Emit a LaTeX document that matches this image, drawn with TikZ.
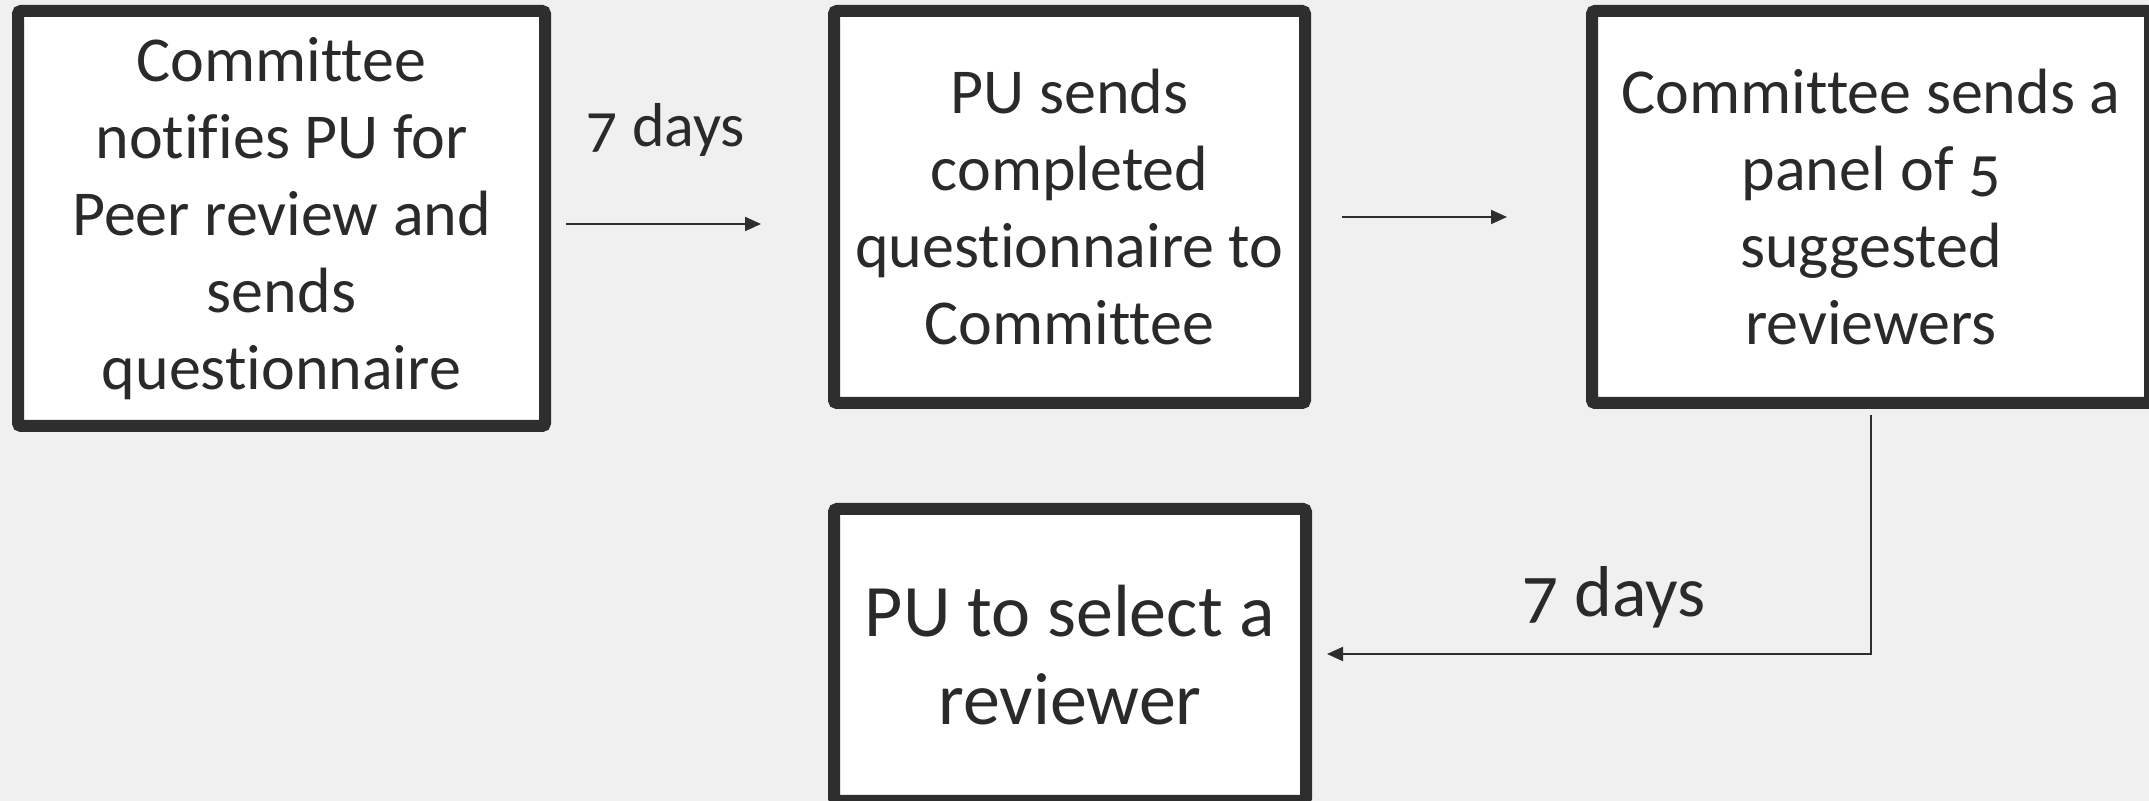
\documentclass[tikz,border=0pt]{standalone}
\usepackage{fontspec}
\setmainfont{Carlito}[Ligatures=NoCommon,Numbers=OldStyle]
\usetikzlibrary{arrows.meta,calc}
\definecolor{bgc}{HTML}{F0F0F0}
\definecolor{inkc}{HTML}{2E2E2E}
\definecolor{txtc}{HTML}{2A2A2A}
\begin{document}
\begin{tikzpicture}[x=0.5pt,y=-0.5pt,
  stepbox/.style={draw=inkc,line width=6pt,fill=white,rounded corners=1.5pt,
    align=center,text=txtc,inner sep=0pt,
    font=\fontsize{32}{38.5}\selectfont},
  bigbox/.style={stepbox,font=\fontsize{37}{44}\selectfont},
  arr/.style={draw=inkc,line width=1pt,-{Triangle[length=8pt,width=7pt]}},
  lbl/.style={text=txtc,inner sep=0pt,anchor=base}]
\useasboundingbox (0,0) rectangle (2149,801);
\fill[bgc] (0,0) rectangle (2149,801);
\clip (0,0) rectangle (2149,801);

\node[stepbox,minimum width=263.5pt,minimum height=207.5pt] (b1) at (281.5,218.5)
  {Committee\\notifies PU for\\Peer review and\\sends\\questionnaire};
\node[stepbox,minimum width=235.5pt,minimum height=196pt] (b2) at (1069.5,207)
  {PU sends\\completed\\questionnaire to\\Committee};
\node[stepbox,minimum width=279pt,minimum height=196pt] (b3) at (1871,207)
  {Committee sends a\\panel of 5\\suggested\\reviewers};
\node[bigbox,minimum width=236pt,minimum height=146pt] (b4) at (1070,655)
  {PU to select a\\reviewer};

\coordinate (a1s) at (566,224);
\coordinate (a1e) at (761,224);
\coordinate (a2s) at (1342,217);
\coordinate (a2e) at (1507,217);
\coordinate (a3e) at (1327,654);

\draw[arr] (a1s) -- (a1e);
\draw[arr] (a2s) -- (a2e);
\draw[arr] ($(b3.south)+(0,6)$) |- (a3e);

\node[lbl,font=\fontsize{31}{36}\selectfont] (l1) at (666,147) {7 days};
\node[lbl,font=\fontsize{36}{42}\selectfont] (l2) at (1614,617) {7 days};
\end{tikzpicture}
\end{document}
